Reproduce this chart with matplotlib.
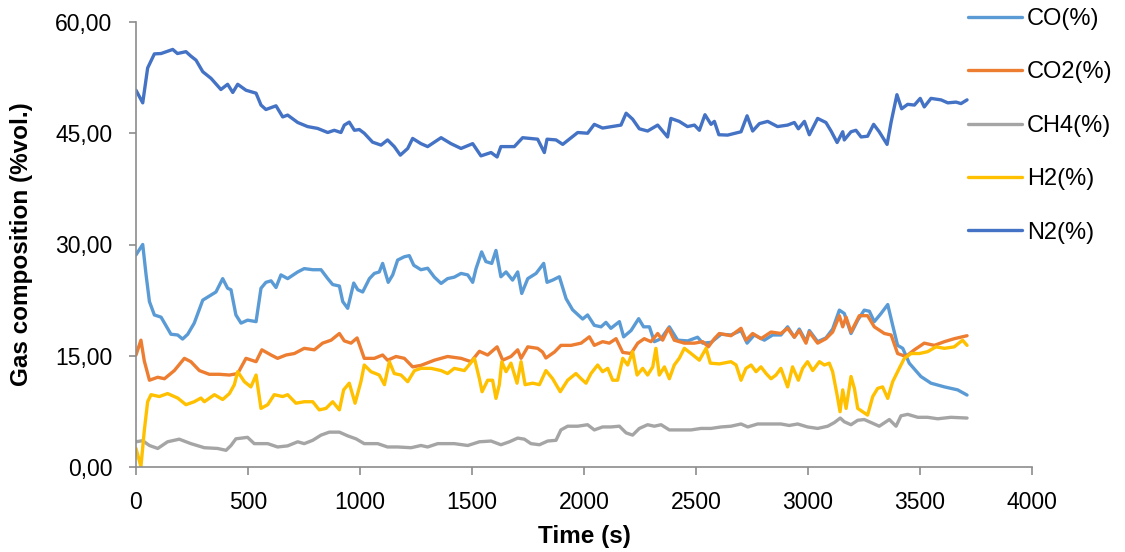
import matplotlib
matplotlib.use("Agg")
import matplotlib.pyplot as plt
from matplotlib.ticker import FuncFormatter, MultipleLocator

# ---------------- data ----------------
co_t = [0, 30, 45, 60, 82, 112, 156, 186, 208, 231, 260, 298, 335, 357, 387, 409, 424, 446,
        469, 498, 536, 558, 580, 603, 625, 647, 677, 722, 751, 789, 826, 856, 878, 908, 923,
        945, 972, 990, 1012, 1042, 1064, 1086, 1101, 1126, 1146, 1168, 1198, 1220, 1240, 1272,
        1302, 1332, 1362, 1391, 1421, 1451, 1481, 1503, 1518, 1543, 1562, 1588, 1607, 1629,
        1652, 1681, 1704, 1722, 1749, 1786, 1820, 1835, 1860, 1890, 1920, 1949, 1994, 2016,
        2046, 2076, 2098, 2120, 2158, 2177, 2210, 2244, 2266, 2292, 2314, 2344, 2381, 2418,
        2463, 2507, 2530, 2567, 2612, 2656, 2701, 2728, 2760, 2805, 2842, 2879, 2909, 2939,
        2961, 2991, 3006, 3043, 3080, 3110, 3140, 3162, 3192, 3222, 3251, 3274, 3296, 3326,
        3356, 3378, 3400, 3423, 3452, 3504, 3549, 3609, 3668, 3710]
co_v = [28.6, 30.0, 25.9, 22.3, 20.5, 20.2, 17.9, 17.8, 17.25, 17.9, 19.4, 22.5, 23.2, 23.6,
        25.4, 24.1, 23.9, 20.5, 19.4, 19.8, 19.6, 24.1, 24.9, 25.1, 24.2, 25.9, 25.4, 26.3,
        26.75, 26.6, 26.6, 25.4, 24.6, 24.4, 22.3, 21.4, 24.8, 23.9, 23.6, 25.4, 26.1, 26.3,
        27.45, 24.9, 25.9, 27.9, 28.35, 28.5, 27.2, 26.6, 26.8, 25.6, 24.75, 25.4, 25.6, 26.1,
        25.9, 24.9, 26.75, 29.0, 27.7, 27.45, 29.2, 25.65, 26.3, 25.2, 26.3, 23.4, 25.4, 26.1,
        27.45, 24.9, 25.2, 25.65, 22.7, 21.2, 19.95, 20.5, 19.1, 18.9, 19.5, 18.7, 19.6, 17.55,
        18.4, 20.0, 18.9, 18.9, 16.9, 17.3, 18.9, 17.1, 17.0, 17.5, 16.7, 16.8, 17.9, 17.8,
        18.4, 16.7, 17.8, 17.1, 17.8, 17.8, 18.9, 17.5, 18.6, 16.9, 18.4, 16.9, 17.4, 18.6,
        21.15, 20.7, 18.0, 19.8, 21.15, 21.0, 19.6, 20.7, 21.9, 19.1, 16.4, 16.0, 14.0, 12.2,
        11.3, 10.8, 10.4, 9.7]

co2_t = [0, 22, 37, 60, 97, 127, 171, 216, 245, 283, 327, 372, 417, 454, 491, 536, 562, 603,
         632, 670, 707, 751, 796, 833, 871, 908, 930, 960, 987, 1019, 1064, 1101, 1123, 1161,
         1198, 1235, 1272, 1332, 1391, 1451, 1496, 1533, 1570, 1612, 1637, 1674, 1704, 1719,
         1749, 1793, 1815, 1830, 1868, 1897, 1942, 1987, 2024, 2046, 2083, 2113, 2143, 2173,
         2210, 2240, 2269, 2299, 2329, 2351, 2377, 2403, 2448, 2493, 2530, 2555, 2582, 2604,
         2656, 2701, 2723, 2753, 2790, 2835, 2879, 2909, 2939, 2961, 2991, 3006, 3043, 3080,
         3110, 3140, 3155, 3170, 3192, 3229, 3266, 3296, 3341, 3371, 3400, 3437, 3475, 3519,
         3564, 3609, 3653, 3710]
co2_v = [15.1, 17.1, 14.3, 11.7, 12.1, 11.9, 13.0, 14.65, 14.2, 13.0, 12.5, 12.5, 12.4, 12.6,
         14.65, 14.2, 15.8, 15.1, 14.65, 15.1, 15.3, 16.0, 15.8, 16.7, 17.1, 18.0, 17.0, 16.7,
         17.4, 14.65, 14.65, 15.1, 14.4, 14.9, 14.65, 13.5, 13.7, 14.4, 14.9, 14.65, 14.2, 15.6,
         15.1, 16.2, 14.4, 14.9, 15.8, 14.65, 16.2, 16.0, 15.5, 14.7, 15.5, 16.4, 16.4, 16.7,
         17.55, 16.4, 16.9, 16.7, 17.3, 15.45, 15.3, 16.7, 17.3, 16.9, 18.0, 17.1, 18.7, 17.1,
         16.7, 16.7, 16.9, 16.2, 17.3, 18.0, 17.7, 18.7, 17.1, 18.0, 17.3, 18.2, 18.0, 18.7,
         17.5, 18.4, 16.7, 18.2, 16.7, 17.3, 18.2, 20.4, 18.9, 20.2, 18.2, 20.4, 20.4, 18.9,
         18.0, 17.8, 15.3, 14.9, 15.8, 16.7, 16.4, 16.9, 17.3, 17.7]

ch4_t = [0, 30, 60, 97, 141, 193, 245, 305, 364, 402, 424, 446, 498, 528, 588, 632, 677, 722,
         751, 789, 826, 863, 908, 945, 982, 1019, 1079, 1123, 1168, 1228, 1272, 1302, 1347,
         1421, 1481, 1533, 1585, 1629, 1667, 1704, 1734, 1763, 1801, 1838, 1875, 1897, 1927,
         1972, 2016, 2046, 2083, 2120, 2158, 2188, 2217, 2247, 2284, 2314, 2344, 2381, 2433,
         2478, 2522, 2567, 2612, 2656, 2701, 2731, 2775, 2835, 2879, 2916, 2954, 2998, 3043,
         3088, 3118, 3144, 3162, 3192, 3222, 3251, 3281, 3318, 3363, 3393, 3415, 3445, 3490,
         3534, 3579, 3638, 3710]
ch4_v = [3.4, 3.55, 2.9, 2.5, 3.4, 3.75, 3.15, 2.6, 2.5, 2.25, 2.9, 3.8, 4.0, 3.15, 3.15, 2.7,
         2.85, 3.4, 3.15, 3.6, 4.3, 4.7, 4.7, 4.2, 3.8, 3.15, 3.15, 2.7, 2.7, 2.6, 2.9, 2.7,
         3.15, 3.15, 2.9, 3.4, 3.5, 3.0, 3.4, 3.9, 3.75, 3.15, 3.0, 3.5, 3.6, 5.0, 5.5, 5.5,
         5.7, 5.0, 5.4, 5.4, 5.5, 4.6, 4.3, 5.2, 5.7, 5.5, 5.7, 5.0, 5.0, 5.0, 5.2, 5.2, 5.4,
         5.5, 5.8, 5.4, 5.8, 5.8, 5.8, 5.6, 5.8, 5.4, 5.2, 5.5, 6.0, 6.6, 6.1, 5.7, 6.3, 6.4,
         6.0, 5.5, 6.4, 5.5, 6.9, 7.1, 6.7, 6.7, 6.5, 6.7, 6.6]

h2_t = [0, 22, 37, 52, 67, 104, 141, 186, 223, 260, 290, 305, 350, 387, 417, 439, 454, 484,
        513, 536, 558, 588, 617, 655, 677, 714, 751, 789, 818, 848, 878, 908, 927, 952, 978,
        1004, 1019, 1049, 1086, 1109, 1131, 1153, 1183, 1213, 1243, 1272, 1317, 1362, 1391,
        1421, 1466, 1511, 1533, 1545, 1570, 1592, 1607, 1622, 1633, 1652, 1674, 1701, 1719,
        1737, 1771, 1801, 1830, 1860, 1894, 1927, 1964, 1987, 2009, 2031, 2061, 2083, 2106,
        2128, 2150, 2173, 2195, 2217, 2237, 2262, 2284, 2307, 2321, 2336, 2359, 2381, 2403,
        2425, 2448, 2478, 2515, 2545, 2564, 2604, 2656, 2679, 2701, 2723, 2746, 2768, 2790,
        2813, 2835, 2857, 2879, 2909, 2931, 2957, 2976, 2998, 3021, 3051, 3073, 3095, 3110,
        3130, 3143, 3155, 3170, 3192, 3207, 3222, 3244, 3266, 3289, 3311, 3333, 3356, 3378,
        3400, 3430, 3460, 3497, 3534, 3571, 3609, 3653, 3690, 3710]
h2_v = [2.5, 0.05, 4.9, 8.8, 9.75, 9.5, 9.9, 9.3, 8.4, 8.8, 9.3, 8.8, 9.75, 9.1, 9.9, 11.1,
        12.85, 11.5, 10.8, 12.4, 7.9, 8.4, 9.75, 9.5, 9.75, 8.6, 8.8, 8.8, 7.7, 7.9, 8.8, 7.7,
        10.4, 11.3, 8.6, 11.5, 13.75, 12.85, 12.4, 11.1, 14.2, 12.6, 12.4, 11.5, 13.0, 13.3,
        13.3, 13.0, 12.6, 13.3, 13.0, 14.65, 11.9, 10.15, 11.7, 11.7, 9.25, 11.1, 14.2, 12.85,
        14.0, 11.3, 14.2, 11.1, 11.3, 11.1, 13.0, 11.9, 10.15, 11.7, 12.6, 11.9, 11.3, 12.6,
        13.75, 12.85, 13.3, 11.7, 11.7, 14.65, 13.75, 15.55, 12.4, 13.3, 12.4, 13.5, 16.0,
        12.4, 13.5, 11.9, 13.75, 14.65, 16.0, 15.3, 14.4, 16.0, 14.0, 13.9, 14.2, 13.75, 11.7,
        13.3, 13.75, 12.85, 13.5, 12.6, 11.9, 12.4, 13.3, 10.8, 13.5, 11.7, 13.3, 14.2, 13.0,
        14.2, 13.75, 14.0, 12.85, 9.7, 7.45, 10.4, 7.9, 12.2, 10.6, 7.9, 7.45, 7.0, 9.5, 10.6,
        10.8, 9.25, 11.5, 12.85, 14.65, 15.3, 15.3, 15.55, 16.2, 16.0, 16.2, 17.1, 16.4]

n2_t = [0, 30, 52, 82, 112, 164, 185, 223, 245, 268, 298, 335, 379, 409, 432, 454, 491, 536,
        558, 580, 625, 655, 677, 722, 766, 811, 856, 885, 915, 930, 952, 975, 997, 1019, 1056,
        1094, 1123, 1153, 1180, 1213, 1235, 1272, 1302, 1362, 1406, 1451, 1503, 1540, 1585,
        1612, 1629, 1689, 1726, 1793, 1823, 1835, 1875, 1905, 1972, 2016, 2046, 2083, 2165,
        2188, 2217, 2247, 2284, 2329, 2351, 2373, 2388, 2425, 2462, 2493, 2515, 2540, 2567,
        2582, 2602, 2641, 2701, 2728, 2753, 2783, 2820, 2864, 2909, 2939, 2957, 2984, 3006,
        3043, 3080, 3103, 3130, 3155, 3162, 3192, 3214, 3237, 3266, 3293, 3318, 3353, 3371,
        3397, 3418, 3445, 3475, 3501, 3519, 3549, 3594, 3624, 3661, 3683, 3710]
n2_v = [50.8, 49.1, 53.8, 55.7, 55.75, 56.3, 55.75, 56.0, 55.4, 54.85, 53.3, 52.4, 50.9, 51.6,
        50.5, 51.6, 50.8, 50.4, 48.8, 48.2, 48.7, 47.2, 47.45, 46.45, 45.9, 45.65, 45.1, 45.4,
        45.1, 46.1, 46.5, 45.4, 45.5, 45.0, 43.8, 43.4, 44.1, 43.2, 42.05, 42.95, 44.3, 43.6,
        43.2, 44.4, 43.6, 42.95, 43.6, 41.95, 42.4, 41.8, 43.2, 43.2, 44.4, 44.2, 42.4, 44.2,
        44.1, 43.5, 45.1, 45.0, 46.2, 45.7, 46.1, 47.7, 46.9, 45.6, 45.3, 46.1, 45.3, 44.5,
        47.0, 46.6, 45.9, 46.1, 45.4, 47.5, 46.2, 46.6, 44.8, 44.75, 45.2, 47.35, 45.3, 46.3,
        46.6, 45.9, 46.1, 46.45, 45.6, 46.6, 44.8, 47.0, 46.45, 45.3, 43.75, 45.2, 44.1, 45.2,
        45.4, 44.5, 44.6, 46.2, 45.2, 43.5, 46.5, 50.2, 48.3, 48.9, 48.8, 49.7, 48.55, 49.7,
        49.5, 49.1, 49.2, 49.0, 49.5]

series_labels = ["CO(%)", "CO2(%)", "CH4(%)", "H2(%)", "N2(%)"]
series_colors = ["#5B9BD5", "#ED7D31", "#A5A5A5", "#FFC000", "#4472C4"]

# ---------------- figure ----------------
plt.rcParams['font.family'] = ['Liberation Sans', 'DejaVu Sans']

W, H = 1125, 552
fig = plt.figure(figsize=(W / 100, H / 100), dpi=100)
ax = fig.add_axes([136 / W, 1 - 467 / H, (1032 - 136) / W, (467 - 22) / H])

data = [(co_t, co_v), (co2_t, co2_v), (ch4_t, ch4_v), (h2_t, h2_v), (n2_t, n2_v)]
for (t, v), lab, col in zip(data, series_labels, series_colors):
    ax.plot(t, v, color=col, lw=2.4, label=lab, solid_joinstyle='round', solid_capstyle='round')

ax.set_xlim(0, 4000)
ax.set_ylim(0, 60)
ax.xaxis.set_major_locator(MultipleLocator(500))
ax.yaxis.set_major_locator(MultipleLocator(15))
ax.yaxis.set_major_formatter(FuncFormatter(lambda v, p: f"{v:.2f}".replace('.', ',')))

axis_col = '#8C8C8C'
for s in ['top', 'right']:
    ax.spines[s].set_visible(False)
for s in ['left', 'bottom']:
    ax.spines[s].set_color(axis_col)
    ax.spines[s].set_linewidth(1.2)

ax.tick_params(axis='x', direction='out', length=6, width=1.2, color=axis_col,
               labelsize=16.5, pad=11, labelcolor='black')
ax.tick_params(axis='y', direction='out', length=5, width=1.2, color=axis_col,
               labelsize=16.5, pad=12, labelcolor='black')

ax.set_xlabel("Time (s)", fontsize=17.5, fontweight='bold')
ax.set_ylabel("Gas composition (%vol.)", fontsize=17.5, fontweight='bold')
ax.xaxis.set_label_coords(0.5, (467 - 537) / 445)
ax.xaxis.label.set_va('center')
ax.yaxis.set_label_coords((22 - 136) / 896, 0.5)
ax.yaxis.label.set_va('center')

leg = fig.legend(loc='upper left', bbox_to_anchor=(968 / W, 1 - 8 / H),
                 frameon=False, fontsize=17, handlelength=2.3, handletextpad=0.2,
                 labelspacing=1.33, borderpad=0, borderaxespad=0)

fig.savefig("out.png", dpi=100)
